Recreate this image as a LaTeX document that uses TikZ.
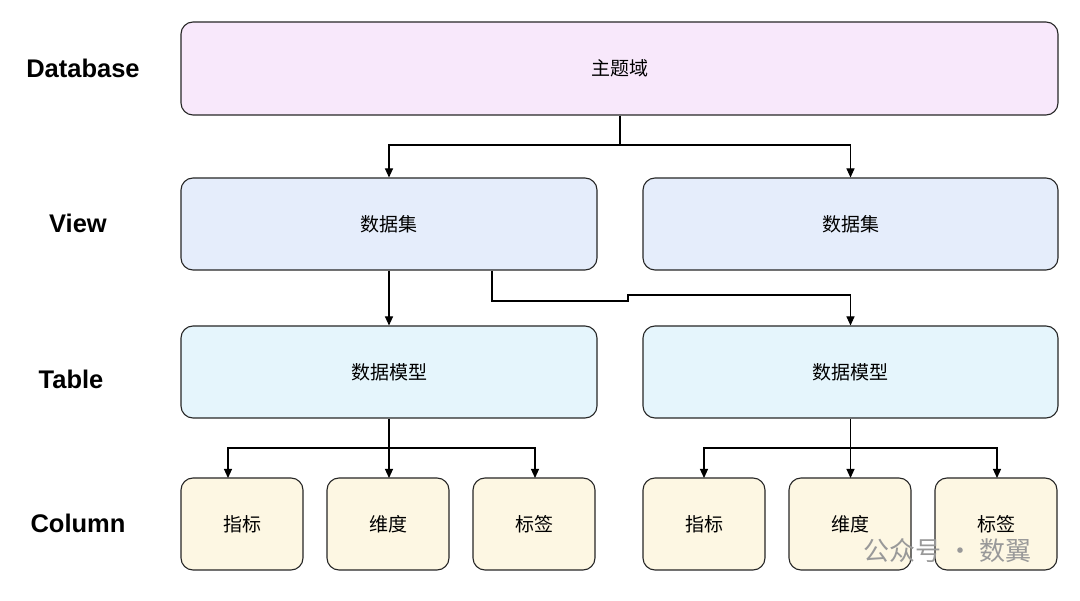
\documentclass[tikz,border=0pt]{standalone}
\usepackage{fontspec}
\setmainfont{Liberation Sans}
\newfontfamily\cjk{Noto Sans CJK SC}
\usetikzlibrary{arrows.meta}
\definecolor{cdb}{HTML}{F8E8FB}
\definecolor{cview}{HTML}{E5EDFB}
\definecolor{ctab}{HTML}{E5F5FC}
\definecolor{ccol}{HTML}{FDF7E3}
\begin{document}
\begin{tikzpicture}[x=1pt,y=-1pt,
 box/.style={draw=black!85,line width=1.1pt,rounded corners=12pt,inner sep=0pt,font=\cjk\fontsize{19}{22}\selectfont},
 lab/.style={font=\bfseries\fontsize{25.5}{30}\selectfont},
 arr/.style={draw=black,line width=1.1pt,-{Triangle[length=9pt,width=8pt]}},
 ln/.style={draw=black,line width=1.1pt}]
\useasboundingbox (0,0) rectangle (1080,601);
\node[box,fill=cdb,minimum width=877pt,minimum height=93pt] (db) at (619.5,68.5) {主题域};
\node[box,fill=cview,minimum width=416pt,minimum height=92pt] (v1) at (389,224) {数据集};
\node[box,fill=cview,minimum width=415pt,minimum height=92pt] (v2) at (850.5,224) {数据集};
\node[box,fill=ctab,minimum width=416pt,minimum height=92pt] (t1) at (389,372) {数据模型};
\node[box,fill=ctab,minimum width=415pt,minimum height=92pt] (t2) at (850.5,372) {数据模型};
\foreach \n/\x/\t in {a/242/指标,b/388/维度,c/534/标签,d/704/指标,e/850/维度,f/996/标签}{
 \node[box,fill=ccol,minimum width=122pt,minimum height=92pt] (c\n) at (\x,524) {\t};}
\node[lab] (l1) at (83,68) {Database};
\node[lab] (l2) at (78,223) {View};
\node[lab] (l3) at (71,379) {Table};
\node[lab] (l4) at (78,523) {Column};
% connectors
\coordinate (j1) at (620,145);
\draw[ln] (db.south -| j1) -- (j1);
\draw[arr] (j1) -| (v1.north);
\draw[arr] (j1) -| (v2.north);
\draw[arr] (v1.south) -- (t1.north);
\coordinate (k1) at (492,301);
\coordinate (k2) at (628,295);
\draw[arr] (v1.south -| k1) -- (k1) -- (k1 -| k2) -- (k2) -| (t2.north);
\coordinate (m1) at (389,448);
\coordinate (m2) at (850.5,448);
\draw[ln] (t1.south) -- (m1);
\draw[ln] (t2.south) -- (m2);
\foreach \n/\x in {a/228,b/389,c/535}{\draw[arr] (m1) -| (\x,448) -- (\x,478);}
\foreach \n/\x in {d/704,e/850.5,f/997}{\draw[arr] (m2) -| (\x,448) -- (\x,478);}
\node[text=black!40,font=\cjk\fontsize{26}{30}\selectfont,anchor=west] (wm) at (860,551) {公众号 · 数翼};
\end{tikzpicture}
\end{document}
